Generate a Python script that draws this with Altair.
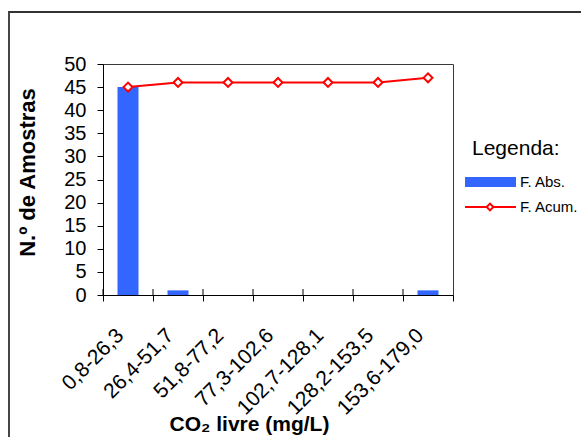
import altair as alt
import pandas as pd

# Classes of free CO2 (mg/L) and sample counts
categories = ["0,8-26,3", "26,4-51,7", "51,8-77,2", "77,3-102,6",
              "102,7-128,1", "128,2-153,5", "153,6-179,0"]
freq_abs = [45, 1, 0, 0, 0, 0, 1]
freq_acum = [45, 46, 46, 46, 46, 46, 47]
series_names = ["F. Abs.", "F. Acum."]
legend_title = "Legenda:"
y_ticks = list(range(0, 51, 5))

BLUE = "#3366FF"
RED = "#FF0000"
FONT = "Liberation Sans"

df = pd.DataFrame({"classe": categories, "abs": freq_abs, "acum": freq_acum})

y_axis = alt.Axis(
    values=y_ticks, title="N.º de Amostras", grid=False,
    titleX=-76, titleY=108, titleAngle=-90, titleAlign="center",
    titleBaseline="middle", titleFontSize=22, titleFontWeight="bold",
    labelFontSize=20, labelPadding=11, tickSize=6,
)
x_scale = alt.Scale(paddingInner=0, paddingOuter=0)
x_enc = alt.X(
    "classe:N", sort=categories, scale=x_scale,
    axis=alt.Axis(
        title="CO₂ livre (mg/L)", titleFontSize=21, titleFontWeight="bold",
        titleX=146, titleY=135, titleAlign="center", titleBaseline="alphabetic",
        labelAngle=-45, labelAlign="right", labelBaseline="middle",
        labelFontSize=21, labelOffset=-8, labelPadding=31,
        tickBand="extent", tickSize=6,
    ),
)
y_scale = alt.Scale(domain=[0, 50])

bars = alt.Chart(df).mark_bar(color=BLUE, width=alt.RelativeBandSize(0.42)).encode(
    x=x_enc,
    y=alt.Y("abs:Q", scale=y_scale, axis=y_axis),
)
line = alt.Chart(df).mark_line(color=RED, strokeWidth=2).encode(
    x=x_enc,
    y=alt.Y("acum:Q", scale=y_scale, axis=y_axis),
)
points = alt.Chart(df).mark_point(
    shape="diamond", size=80, filled=True, fill="white", stroke=RED,
    strokeWidth=2, opacity=1,
).encode(
    x=x_enc,
    y=alt.Y("acum:Q", scale=y_scale, axis=y_axis),
)

# Inner half of the category tick marks, so they cross the x axis
inner_ticks = alt.Chart(df).mark_rule(color="black", strokeWidth=1).encode(
    x=alt.X("classe:N", sort=categories, scale=x_scale, bandPosition=0),
    y=alt.value(225), y2=alt.value(231),
)

# Legend drawn beside the plot
one = pd.DataFrame({"k": [0]})
leg_title = alt.Chart(one).mark_text(
    align="left", baseline="alphabetic", fontSize=21, font=FONT, color="black"
).encode(x=alt.value(369), y=alt.value(91), text=alt.value(legend_title))
leg_rect = alt.Chart(one).mark_rect(color=BLUE).encode(
    x=alt.value(362), x2=alt.value(413), y=alt.value(113), y2=alt.value(123)
)
leg_abs = alt.Chart(one).mark_text(
    align="left", baseline="middle", fontSize=15, font=FONT, color="black"
).encode(x=alt.value(417), y=alt.value(118), text=alt.value(series_names[0]))
leg_rule = alt.Chart(one).mark_rule(color=RED, strokeWidth=2).encode(
    x=alt.value(362), x2=alt.value(413), y=alt.value(143)
)
leg_point = alt.Chart(one).mark_point(
    shape="diamond", size=45, filled=True, fill="white", stroke=RED,
    strokeWidth=2, opacity=1,
).encode(x=alt.value(387), y=alt.value(143))
leg_acum = alt.Chart(one).mark_text(
    align="left", baseline="middle", fontSize=15, font=FONT, color="black"
).encode(x=alt.value(417), y=alt.value(143), text=alt.value(series_names[1]))

# Outer frame around the whole figure
frame = alt.Chart(one).mark_rect(
    fillOpacity=0, stroke="#333333", strokeWidth=1.8
).encode(x=alt.value(-94), x2=alt.value(490), y=alt.value(-52), y2=alt.value(390))

chart = alt.layer(
    bars, inner_ticks, line, points,
    leg_title, leg_rect, leg_abs, leg_rule, leg_point, leg_acum, frame,
).properties(
    width=350, height=231,
    padding={"left": 103, "top": 64, "right": 128, "bottom": 142},
    autosize=alt.AutoSizeParams(type="none"),
    background="white",
).configure_view(
    stroke="#3a3a3a", strokeWidth=1
).configure_axis(
    labelFont=FONT, titleFont=FONT, labelColor="black", titleColor="black",
    domainColor="black", tickColor="black", domainWidth=1, tickWidth=1,
)

chart.save("out.html", embed_options={"renderer": "svg", "actions": False})
